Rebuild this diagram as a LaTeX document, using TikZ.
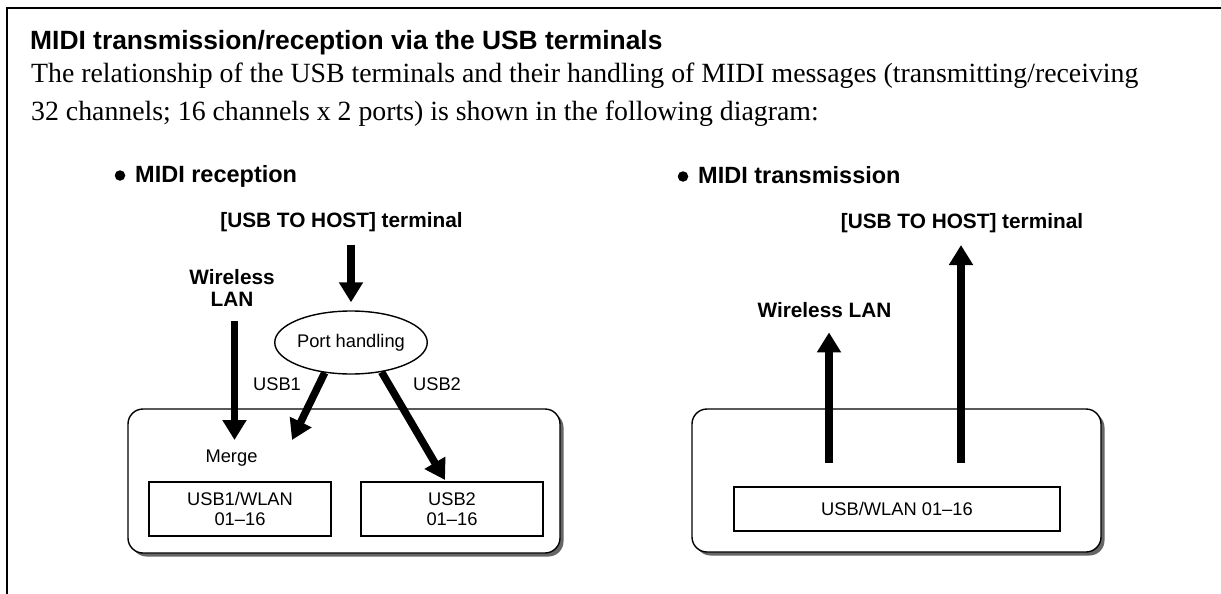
\documentclass[tikz,border=0pt]{standalone}
\usepackage{fontspec}
\setmainfont{Liberation Serif}
\newfontfamily\sansf{Liberation Sans}
\usetikzlibrary{arrows.meta,shapes.geometric,shadows}
\begin{document}
\begin{tikzpicture}[x=1pt,y=-1pt,
  big/.style={line width=7.5pt,-{Triangle[width=23pt,length=20pt]}},
  rbox/.style={draw,line width=1.4pt,rounded corners=15pt,fill=white,
    drop shadow={shadow xshift=3.5pt,shadow yshift=-3.5pt,fill=black!60,opacity=1}},
  ibox/.style={draw,line width=1.3pt,fill=white,inner sep=0pt,align=center,
    font=\sansf\fontsize{18.3}{20}\selectfont},
  lab/.style={font=\sansf\fontsize{18.3}{21}\selectfont,inner sep=0pt},
  blab/.style={font=\sansf\bfseries\fontsize{20.8}{23}\selectfont,inner sep=0pt},
  headtext/.style={font=\sansf\bfseries\fontsize{23.5}{27}\selectfont,inner sep=0pt,anchor=base west},
  bodytext/.style={font=\fontsize{27.8}{37}\selectfont,inner sep=0pt,anchor=base west},
  dot/.style={circle,fill,inner sep=0pt,minimum size=10.5pt},
]
\useasboundingbox (0,0) rectangle (1221,594);
% frame
\draw[line width=2pt] (1221,8) -- (7,8) -- (7,594);
% heading texts
\node[inner sep=0pt,anchor=base west,font=\sansf\bfseries\fontsize{26.4}{30}\selectfont] (title) at (30,50) {MIDI transmission/reception via the USB terminals};
\node[bodytext] (body1) at (31,83) {The relationship of the USB terminals and their handling of MIDI messages (transmitting/receiving};
\node[bodytext] (body2) at (31,120) {32 channels; 16 channels x 2 ports) is shown in the following diagram:};

% ---------- MIDI reception ----------
\node[dot] (bulL) at (120,175.5) {};
\node[headtext] (headL) at (135,182) {MIDI reception};
\node[blab,anchor=base] (hostL) at (341.5,227) {[USB TO HOST] terminal};
\node[blab,anchor=north,align=center] (wlL) at (232,269) {Wireless\\[-1pt]LAN};
\node[draw,ellipse,line width=1.4pt,minimum width=132pt,minimum height=63pt,inner sep=0pt,
      font=\sansf\fontsize{18.3}{21}\selectfont] (port) at (351,342.5) {Port handling};
\node[lab,anchor=base] (usb1) at (277,390) {USB1};
\node[lab,anchor=base] (usb2) at (437,390) {USB2};
\node[rbox,minimum width=432pt,minimum height=144pt] (recv) at (344,481) {};
\node[lab,anchor=base] (merge) at (231.5,462) {Merge};
\node[ibox,minimum width=182pt,minimum height=54pt] (b1) at (240,509) {USB1/WLAN\\01–16};
\node[ibox,minimum width=182pt,minimum height=54pt] (b2) at (452,509) {USB2\\01–16};
\coordinate (inW) at (234.5,440);
\coordinate (in1) at (292,440);
\coordinate (in2) at (445,480);
\draw[big,shorten <=13pt,shorten >=8pt] (hostL.south -| port.north) -- (port.north);
\draw[big,shorten <=15pt] (wlL.south -| inW) -- (inW);
\draw[big] (port.229) -- (in1);
\draw[big] (port.316) -- (in2);

% ---------- MIDI transmission ----------
\node[dot] (bulR) at (683,176.5) {};
\node[headtext] (headR) at (698,183) {MIDI transmission};
\node[blab,anchor=base] (hostR) at (962,228) {[USB TO HOST] terminal};
\node[blab,anchor=base] (wlR) at (824.5,317) {Wireless LAN};
\node[rbox,minimum width=409pt,minimum height=143pt] (send) at (896.5,480.5) {};
\node[ibox,minimum width=326pt,minimum height=44pt] (b3) at (897,509) {USB/WLAN 01–16};
\coordinate (outW) at (829,463);
\coordinate (outH) at (961,463);
\draw[big,shorten >=15pt] (outW) -- (outW |- wlR.south);
\draw[big,shorten >=12.5pt] (outH) -- (outH |- hostR.south);
\end{tikzpicture}
\end{document}
